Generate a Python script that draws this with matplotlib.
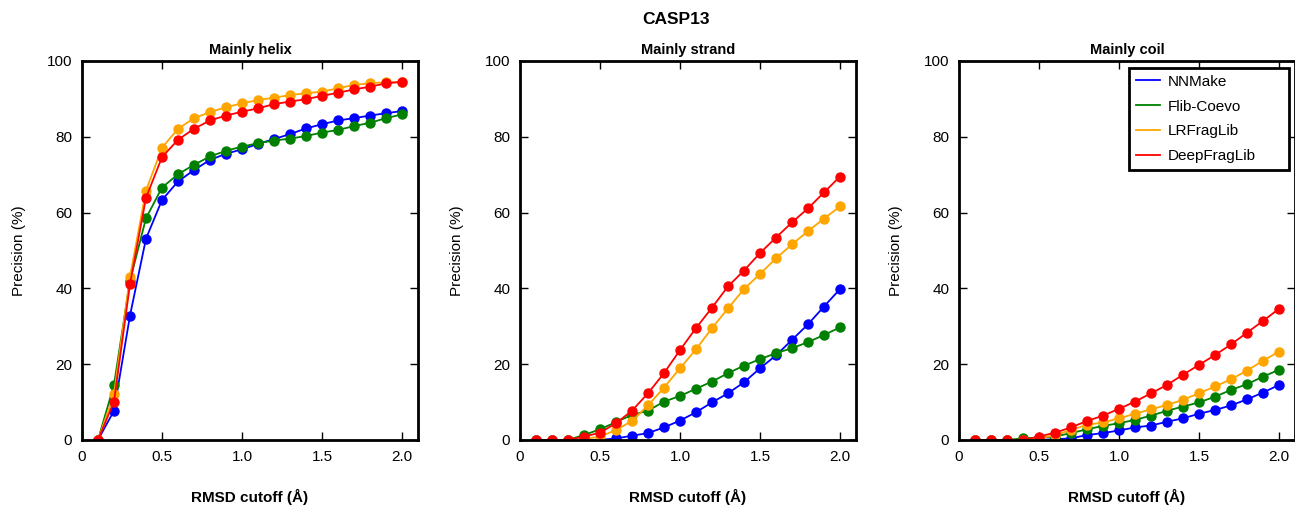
import matplotlib

matplotlib.use("Agg")

import matplotlib.pyplot as plt
import numpy as np

plt.rcParams["font.family"] = ["Liberation Sans", "DejaVu Sans"]

cutoffs = [0.1, 0.2, 0.3, 0.4, 0.5, 0.6, 0.7, 0.8, 0.9, 1.0,
           1.1, 1.2, 1.3, 1.4, 1.5, 1.6, 1.7, 1.8, 1.9, 2.0]

methods = ["NNMake", "Flib-Coevo", "LRFragLib", "DeepFragLib"]
colors = ["blue", "green", "orange", "red"]
panel_titles = ["Mainly helix", "Mainly strand", "Mainly coil"]

helix_nnmake = [0, 7.7, 32.8, 53.1, 63.3, 68.2, 71.2, 73.9, 75.5, 76.7,
                78.1, 79.4, 80.7, 82.2, 83.3, 84.3, 84.9, 85.6, 86.2, 86.8]
helix_flib = [0, 14.5, 42.0, 58.5, 66.6, 70.1, 72.6, 74.8, 76.3, 77.4,
              78.3, 79.0, 79.5, 80.2, 81.1, 81.8, 82.8, 83.7, 84.9, 85.9]
helix_lrfrag = [0, 12.0, 43.1, 65.8, 77.1, 82.1, 84.9, 86.5, 87.8, 88.8,
                89.7, 90.3, 91.0, 91.5, 91.9, 92.8, 93.7, 94.1, 94.4, 94.4]
helix_deepfrag = [0, 10.1, 41.1, 63.9, 74.6, 79.2, 82.1, 84.3, 85.6, 86.6,
                  87.5, 88.6, 89.3, 89.9, 90.8, 91.6, 92.5, 93.2, 94.1, 94.5]

strand_nnmake = [0, 0, 0, 0, 0, 0.4, 1.1, 1.8, 3.3, 5.1,
                 7.3, 9.9, 12.3, 15.2, 18.9, 22.3, 26.4, 30.5, 35.2, 39.8]
strand_flib = [0, 0, 0, 1.3, 2.8, 4.7, 6.6, 7.7, 10.1, 11.6,
               13.5, 15.4, 17.6, 19.6, 21.3, 22.9, 24.2, 25.8, 27.7, 29.7]
strand_lrfrag = [0, 0, 0, 0.2, 0.9, 2.6, 5.0, 9.1, 13.8, 18.9,
                 23.9, 29.5, 34.7, 39.8, 43.8, 47.9, 51.6, 55.1, 58.4, 61.6]
strand_deepfrag = [0, 0, 0, 0.9, 1.9, 4.4, 7.7, 12.3, 17.6, 23.7,
                   29.5, 34.9, 40.5, 44.7, 49.3, 53.4, 57.4, 61.1, 65.3, 69.5]

coil_nnmake = [0, 0, 0, 0, 0, 0.2, 0.4, 1.3, 1.8, 2.5,
               3.3, 3.8, 4.8, 5.7, 6.9, 7.9, 9.1, 10.7, 12.5, 14.5]
coil_flib = [0, 0, 0, 0.4, 0.6, 0.9, 1.8, 2.8, 3.7, 4.4,
             5.3, 6.4, 7.7, 8.8, 9.9, 11.4, 13.2, 14.7, 16.7, 18.5]
coil_lrfrag = [0, 0, 0, 0, 0.4, 1.3, 2.6, 4.0, 4.6, 5.7,
               6.9, 8.1, 9.2, 10.6, 12.3, 14.1, 16.0, 18.3, 20.9, 23.3]
coil_deepfrag = [0, 0, 0, 0, 0.9, 1.9, 3.3, 5.0, 6.4, 8.2,
                 10.1, 12.3, 14.5, 17.2, 19.8, 22.4, 25.2, 28.3, 31.4, 34.6]

panels = [
    [helix_nnmake, helix_flib, helix_lrfrag, helix_deepfrag],
    [strand_nnmake, strand_flib, strand_lrfrag, strand_deepfrag],
    [coil_nnmake, coil_flib, coil_lrfrag, coil_deepfrag],
]

x_ticks = [0, 0.5, 1.0, 1.5, 2.0]
x_tick_labels = ["0", "0.5", "1.0", "1.5", "2.0"]
y_ticks = [0, 20, 40, 60, 80, 100]

fig = plt.figure(figsize=(12.95, 5.08), dpi=100)
lefts = [0.0633, 0.4015, 0.7405]

for i, (left, series, title) in enumerate(zip(lefts, panels, panel_titles)):
    ax = fig.add_axes([left, 0.134, 0.2595, 0.746])
    for name, color, values in zip(methods, colors, series):
        ax.plot(cutoffs, values, "-", color=color, linewidth=1.3, label=name)
        ax.plot(cutoffs, values, "o", color=color, markersize=6.5,
                markeredgecolor=color)
    ax.set_xlim(0, 2.1)
    ax.set_ylim(0, 100)
    ax.set_xticks(x_ticks)
    ax.set_xticklabels(x_tick_labels)
    ax.set_yticks(y_ticks)
    ax.tick_params(direction="in", top=True, right=True, length=6,
                   width=1, labelsize=11, pad=7)
    for spine in ax.spines.values():
        spine.set_linewidth(2)
    ax.set_title(title, fontsize=10.5, fontweight="bold", pad=5)
    ax.set_xlabel("RMSD cutoff (\u00c5)", fontsize=11, fontweight="bold",
                  labelpad=18)
    ax.set_ylabel("Precision (%)", fontsize=11, labelpad=15)
    if i == 2:
        # expanded legend box: wide frame with the entries kept to the left
        leg = ax.legend(loc="upper left", bbox_to_anchor=(0.506, 0.7, 0.476, 0.2815),
                        mode="expand", fontsize=11, fancybox=False,
                        framealpha=1, edgecolor="black", handlelength=1.6,
                        handletextpad=0.5, labelspacing=0.7,
                        borderaxespad=0, borderpad=0.45)
        leg.get_frame().set_linewidth(2)

fig.text(0.522, 0.962, "CASP13", ha="center", va="center", fontsize=12.5,
         fontweight="bold")

fig.savefig("out.png", dpi=100)
